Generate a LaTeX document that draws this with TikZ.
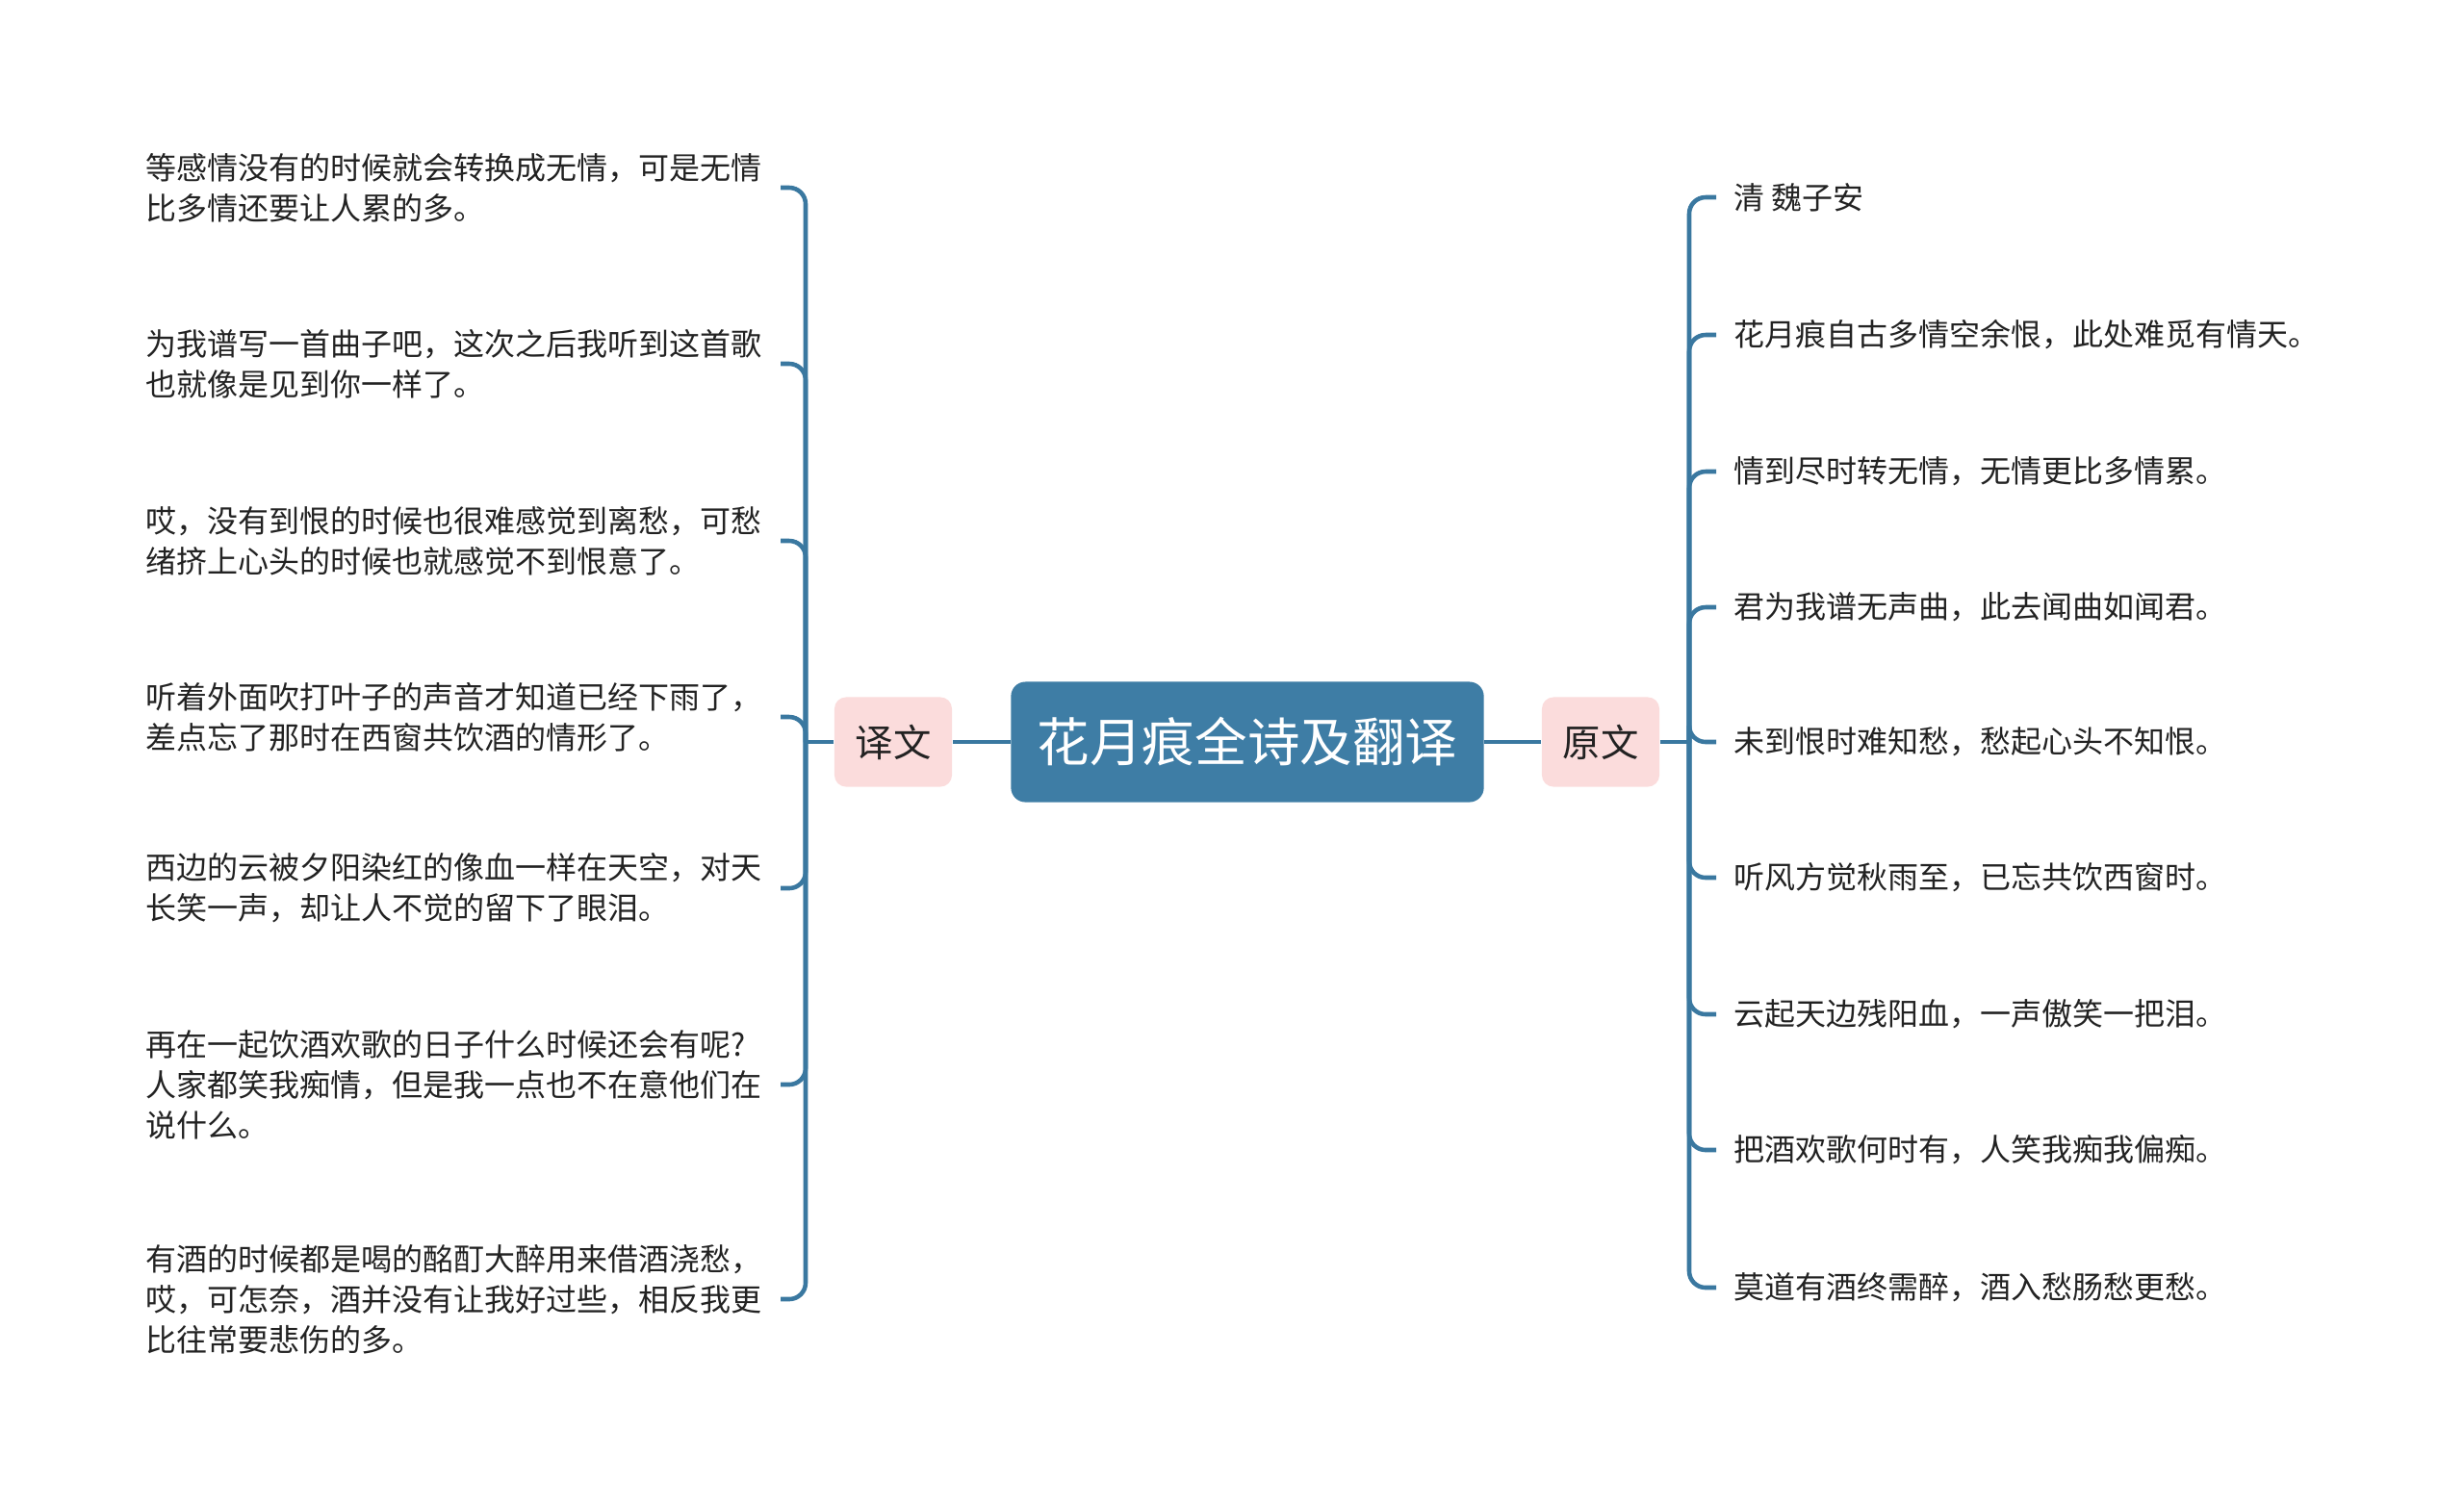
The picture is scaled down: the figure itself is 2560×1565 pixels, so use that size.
\documentclass[tikz,border=0pt]{standalone}
\usepackage{fontspec}
\setmainfont{Noto Sans CJK SC}
\usepackage{xcolor}
\definecolor{title-blue}{HTML}{3E7DA5}
\definecolor{line-blue}{HTML}{3A78A0}
\definecolor{tag-pink}{HTML}{FBDCDC}
\definecolor{ink}{HTML}{222222}

\begin{document}
\begin{tikzpicture}[x=0.01cm, y=-0.01cm,
  every node/.style={text=ink, font=\fontsize{9.1pt}{12pt}\selectfont},
  link/.style={line width=1.3pt, color=line-blue, rounded corners=0.17cm},
  tag/.style={fill=tag-pink, rounded corners=0.12cm, minimum width=1.22cm,
    minimum height=0.93cm, font=\fontsize{11.2pt}{13pt}\selectfont},
  leftleaf/.style={anchor=east, inner xsep=0.18cm, inner ysep=0pt,
    text width=6.40cm, align=left},
  rightleaf/.style={anchor=west, inner xsep=0.18cm, inner ysep=0pt}]
  \useasboundingbox (0, 0) rectangle (2560, 1565);

  \node[fill=title-blue, rounded corners=0.15cm, minimum width=4.91cm,
    minimum height=1.25cm, text=white,
    font=\fontsize{15.5pt}{18pt}\selectfont] (title) at (1296, 771) {花月痕全诗及翻译};
  \node[tag] (yiwen) at (928, 771) {译文};
  \node[tag] (yuanwen) at (1663, 771) {原文};
  \coordinate (lhub) at (837, 771);
  \coordinate (rhub) at (1755, 771);

  % translation
  \node[leftleaf] (t1) at (811, 195) {等感情没有的时候就会转换成无情，可是无情\\比多情还要让人累的多。};
  \node[leftleaf] (t2) at (811, 378) {为我谱写一首曲子吧，这次之后我听到这首歌\\也就像是见到你一样了。};
  \node[leftleaf] (t3) at (811, 562) {哎，没有到恨的时候也很难感觉到离愁，可愁\\绪挤上心头的时候也就感觉不到恨意了。};
  \node[leftleaf] (t4) at (811, 745) {听着外面吹打叶子的声音才知道已经下雨了，\\差点忘了那时在西窗共饮酒的情形了。};
  \node[leftleaf] (t5) at (811, 923) {西边的云被夕阳染红的像血一样在天空，对天\\长笑一声，却让人不觉的留下了眼泪。};
  \node[leftleaf] (t6) at (811, 1127) {再在一起饮酒欢歌的日子什么时候还会有呢?\\人家都笑我痴情，但是我一点也不在意他们在\\说什么。};
  \node[leftleaf] (t7) at (811, 1350) {有酒的时候都是喝的酩酊大醉用来借酒浇愁，\\哎，可怎奈，酒并没有让我好过些，相反我更\\比往常要悲伤的多。};

  % original poem
  \node[rightleaf] (o1) at (1783, 205) {清 魏子安};
  \node[rightleaf] (o2) at (1783, 348) {花月痕自古多情空余恨，此处难觅有情天。};
  \node[rightleaf] (o3) at (1783, 490) {情到尽时转无情，无情更比多情累。};
  \node[rightleaf] (o4) at (1783, 631) {君为我谱无声曲，此去闻曲如闻君。};
  \node[rightleaf] (o5) at (1783, 771) {未到恨时难知愁，愁起心头不知恨。};
  \node[rightleaf] (o6) at (1783, 912) {听风方觉秋雨至，已忘共饮西窗时。};
  \node[rightleaf] (o7) at (1783, 1054) {云起天边残阳血，一声傲笑一把泪。};
  \node[rightleaf] (o8) at (1783, 1195) {把酒欢歌何时有，人笑我痴我偏痴。};
  \node[rightleaf] (o9) at (1783, 1338) {莫道有酒终需醉，酒入愁肠愁更愁。};

  \draw[link] (title.west) -- (yiwen.east);
  \draw[link] (title.east) -- (yuanwen.west);
  \draw[link] (yiwen.west) -- (lhub);
  \draw[link] (yuanwen.east) -- (rhub);
  \foreach \i in {1,...,7}
    \draw[link] (lhub) |- (t\i.east);
  \foreach \i in {1,...,9}
    \draw[link] (rhub) |- (o\i.west);
\end{tikzpicture}
\end{document}
